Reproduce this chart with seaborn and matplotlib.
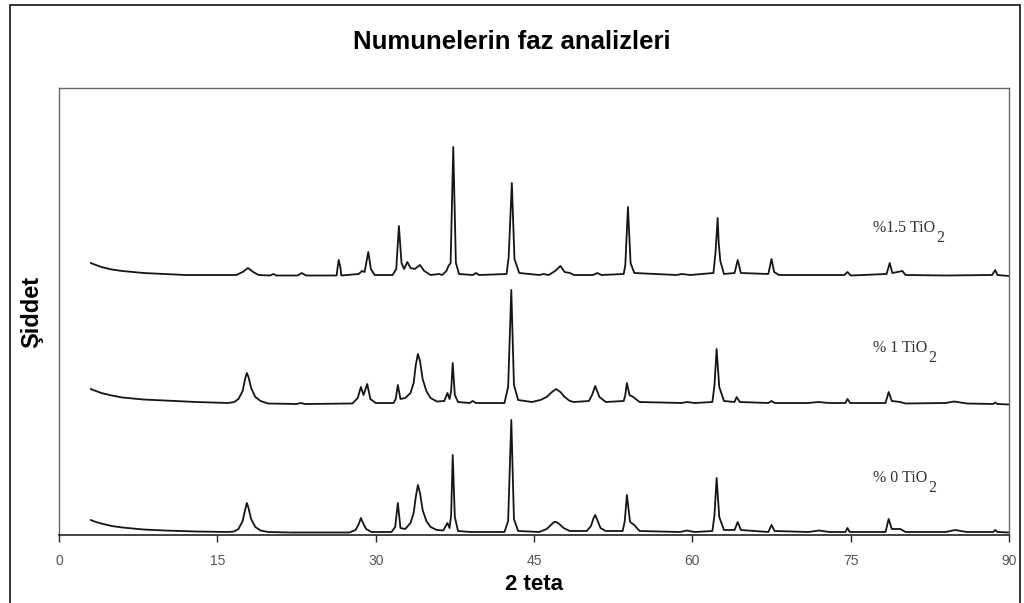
import numpy as np
import pandas as pd
import matplotlib
matplotlib.use("Agg")
import matplotlib.pyplot as plt
import seaborn as sns
from matplotlib.patches import Rectangle

# XRD patterns (2 theta, intensity above each trace's own baseline)
samples = ["% 0 TiO2", "% 1 TiO2", "%1.5 TiO2"]
label_main = ["% 0 TiO", "% 1 TiO", "%1.5 TiO"]
offsets = [0, 130, 258]

tt_0 = [3.0, 3.5, 4.0, 5.0, 6.0, 8.0, 10.0, 13.0, 16.0, 16.6, 17.0, 17.4, 17.65, 17.8,
        17.95, 18.2, 18.6, 19.1, 19.8, 22.0, 27.5, 28.1, 28.4, 28.6, 28.8, 29.1, 29.6, 31.5,
        31.85, 32.1, 32.35, 32.8, 33.3, 33.6, 33.8, 34.0, 34.2, 34.45, 34.8, 35.2, 35.8, 36.4,
        36.8, 37.0, 37.15, 37.3, 37.5, 37.8, 39.0, 42.2, 42.55, 42.85, 43.1, 43.5, 45.5, 46.2,
        46.6, 46.9, 47.1, 47.4, 47.8, 48.4, 50.0, 50.4, 50.65, 50.8, 51.0, 51.3, 51.8, 53.4,
        53.6, 53.8, 54.1, 54.5, 55.0, 58.8, 59.5, 60.2, 61.9, 62.1, 62.3, 62.55, 63.0, 64.0,
        64.3, 64.6, 67.2, 67.5, 67.8, 71.0, 72.0, 73.0, 74.5, 74.7, 74.9, 78.3, 78.6, 78.9,
        79.7, 80.2, 84.0, 84.9, 86.0, 88.5, 88.7, 88.9, 90.0]
int_0 = [15, 13, 11.5, 9, 7.5, 5.5, 4.5, 3.5, 3, 3.5, 6, 14, 26, 32,
         27, 16, 8, 4.5, 3, 2.5, 2.5, 5, 11, 17, 12, 6, 3, 3,
         8, 32, 7, 6, 12, 22, 38, 50, 42, 25, 14, 8, 5, 4.5,
         12, 7, 20, 80, 18, 4, 3, 3, 14, 115, 16, 4, 3, 6,
         10, 13, 13, 11, 7, 4, 4, 9, 17, 20, 15, 7, 4, 4,
         14, 40, 13, 10, 4, 3, 4.5, 3, 4, 20, 57, 18, 5, 5,
         13, 5, 3, 10, 4, 3, 4.5, 3, 3, 7, 3, 3, 16, 6,
         6, 3, 3, 5, 3, 3, 5, 3, 2.5]

tt_1 = [3.0, 3.5, 4.0, 5.0, 6.0, 8.0, 10.0, 13.0, 16.0, 16.6, 17.0, 17.4, 17.65, 17.8,
        17.95, 18.2, 18.6, 19.1, 19.8, 22.5, 22.9, 23.3, 27.8, 28.3, 28.6, 28.85, 29.2, 29.5,
        30.0, 31.7, 31.9, 32.1, 32.35, 32.8, 33.3, 33.6, 33.8, 34.0, 34.2, 34.45, 34.8, 35.2,
        35.8, 36.5, 36.8, 37.0, 37.15, 37.3, 37.5, 37.8, 38.9, 39.2, 39.5, 42.2, 42.55, 42.85,
        43.1, 43.5, 44.8, 45.6, 46.2, 46.7, 47.1, 47.5, 47.9, 48.4, 48.8, 50.2, 50.5, 50.8,
        51.2, 51.8, 53.5, 53.65, 53.8, 54.05, 54.4, 55.0, 59.0, 59.5, 60.2, 61.9, 62.1, 62.3,
        62.55, 63.0, 64.0, 64.2, 64.5, 67.2, 67.5, 67.8, 71.0, 71.9, 73.0, 74.5, 74.7, 74.95,
        78.3, 78.6, 78.9, 79.7, 80.2, 84.0, 84.8, 86.0, 88.5, 88.7, 88.9, 90.0]
int_1 = [16, 14, 12, 9.5, 7.5, 5.5, 4.5, 3, 2, 3, 6, 14, 27, 32,
         28, 17, 8, 4, 1.5, 1, 2, 1, 1.5, 7, 18, 10, 21, 6,
         2, 2, 6, 20, 6, 7, 12, 22, 40, 51, 44, 26, 14, 7,
         3.5, 4, 12, 6, 14, 42, 10, 3, 2, 4, 2, 2, 18, 115,
         20, 5, 3, 5, 8, 13, 16, 13, 8, 4, 3, 4, 10, 19,
         8, 3, 4, 10, 22, 10, 8, 3, 2, 3, 2, 3, 20, 56,
         18, 4, 3, 8, 3, 2, 4, 2, 2, 3, 2, 2, 6, 2,
         2, 13, 4, 3, 1.5, 2, 3.5, 1.5, 1, 2.5, 1, 0.5]

tt_15 = [3.0, 3.5, 4.0, 5.0, 6.0, 8.0, 10.0, 12.0, 16.8, 17.4, 17.9, 18.4, 18.9, 20.0,
         20.3, 20.6, 22.6, 23.0, 23.4, 26.3, 26.4, 26.5, 26.65, 26.75, 28.4, 28.7, 28.95, 29.3,
         29.55, 29.9, 31.6, 31.95, 32.2, 32.45, 32.7, 33.0, 33.3, 33.7, 34.2, 34.6, 35.2, 36.0,
         36.3, 36.7, 36.9, 37.1, 37.35, 37.6, 37.9, 39.2, 39.5, 39.8, 42.4, 42.6, 42.9, 43.15,
         43.6, 45.5, 45.9, 46.4, 47.0, 47.5, 47.9, 48.4, 48.8, 50.6, 51.0, 51.4, 53.5, 53.65,
         53.9, 54.15, 54.5, 58.5, 59.0, 59.8, 62.0, 62.2, 62.4, 62.5, 62.65, 63.0, 64.0, 64.3,
         64.6, 67.2, 67.5, 67.75, 68.2, 74.4, 74.7, 75.0, 78.4, 78.7, 78.95, 79.9, 80.2, 84.0,
         88.4, 88.7, 88.9, 90.0]
int_15 = [14, 12, 10, 7.5, 6, 4, 3, 2, 2, 5, 9, 5, 2, 1.5,
          3, 1.5, 1.5, 4, 1.5, 1.5, 10, 17, 10, 1.5, 3, 6, 5, 25,
          8, 2, 2, 8, 51, 14, 8, 15, 9, 8, 12, 6, 2, 3,
          2, 6, 11, 14, 130, 14, 3, 2, 4, 2, 3, 20, 94, 18,
          4, 2, 3, 2, 6, 11, 5, 4, 2, 2, 4, 2, 3, 12,
          70, 14, 4, 2, 3, 2, 4, 25, 59, 34, 16, 3, 4, 17,
          4, 3, 18, 5, 2, 2, 5, 1.5, 3, 14, 4, 6, 2, 1.5,
          2, 7, 2, 1]

frames = []
for name, off, tt, inten in zip(samples, offsets,
                                [tt_0, tt_1, tt_15], [int_0, int_1, int_15]):
    frames.append(pd.DataFrame({"two_theta": tt,
                                "intensity": np.array(inten, dtype=float) + off,
                                "sample": name}))
df = pd.concat(frames, ignore_index=True)

sns.set_style("white")
plt.rcParams["font.family"] = ["Liberation Sans", "DejaVu Sans"]
plt.rcParams["text.color"] = "black"
plt.rcParams["axes.labelcolor"] = "black"

fig = plt.figure(figsize=(10.24, 6.03), dpi=100)
ax = fig.add_axes([59 / 1024, 1 - 535 / 603, (1009 - 59) / 1024, (535 - 88) / 603])

sns.lineplot(data=df, x="two_theta", y="intensity", hue="sample",
             palette=["#151515"] * 3, estimator=None, sort=False,
             legend=False, linewidth=1.3, ax=ax)

ax.set_xlim(0, 90)
ax.set_ylim(0, 447)
ax.set_xticks(np.arange(0, 91, 15))
ax.set_yticks([])
ax.tick_params(axis="x", direction="out", length=5, width=1, color="#222",
               labelsize=10, labelcolor="#555", pad=9, bottom=True)

for side in ["top", "right", "left"]:
    ax.spines[side].set_color("#666")
    ax.spines[side].set_linewidth(1)
ax.spines["bottom"].set_color("#111")
ax.spines["bottom"].set_linewidth(1.1)

ax.set_xlabel("2 teta", fontsize=16, fontweight="bold", labelpad=4)
ax.set_ylabel("Şiddet", fontsize=17, fontweight="bold", labelpad=11)

fig.canvas.draw()
renderer = fig.canvas.get_renderer()
label_y = [57, 187, 307]
for lab, y in zip(label_main, label_y):
    t = ax.text(77.1, y, lab, fontsize=11.5, color="#333", family="Liberation Serif",
                va="center", ha="left")
    bb = t.get_window_extent(renderer)
    ax.annotate("2", xy=(bb.x1, bb.y0), xycoords="figure pixels",
                xytext=(1, -1.5), textcoords="offset points", fontsize=11.5,
                color="#333", family="Liberation Serif", va="center", ha="left")

fig.text(0.5, 1 - 42 / 603, "Numunelerin faz analizleri", fontsize=18.5,
         fontweight="bold", ha="center", va="center")

fig.patches.append(Rectangle((10 / 1024, -0.01), 1010 / 1024, 1 - 5 / 603 + 0.01,
                             transform=fig.transFigure, fill=False,
                             edgecolor="#111", linewidth=1.2))

fig.savefig("out.png", dpi=100)
